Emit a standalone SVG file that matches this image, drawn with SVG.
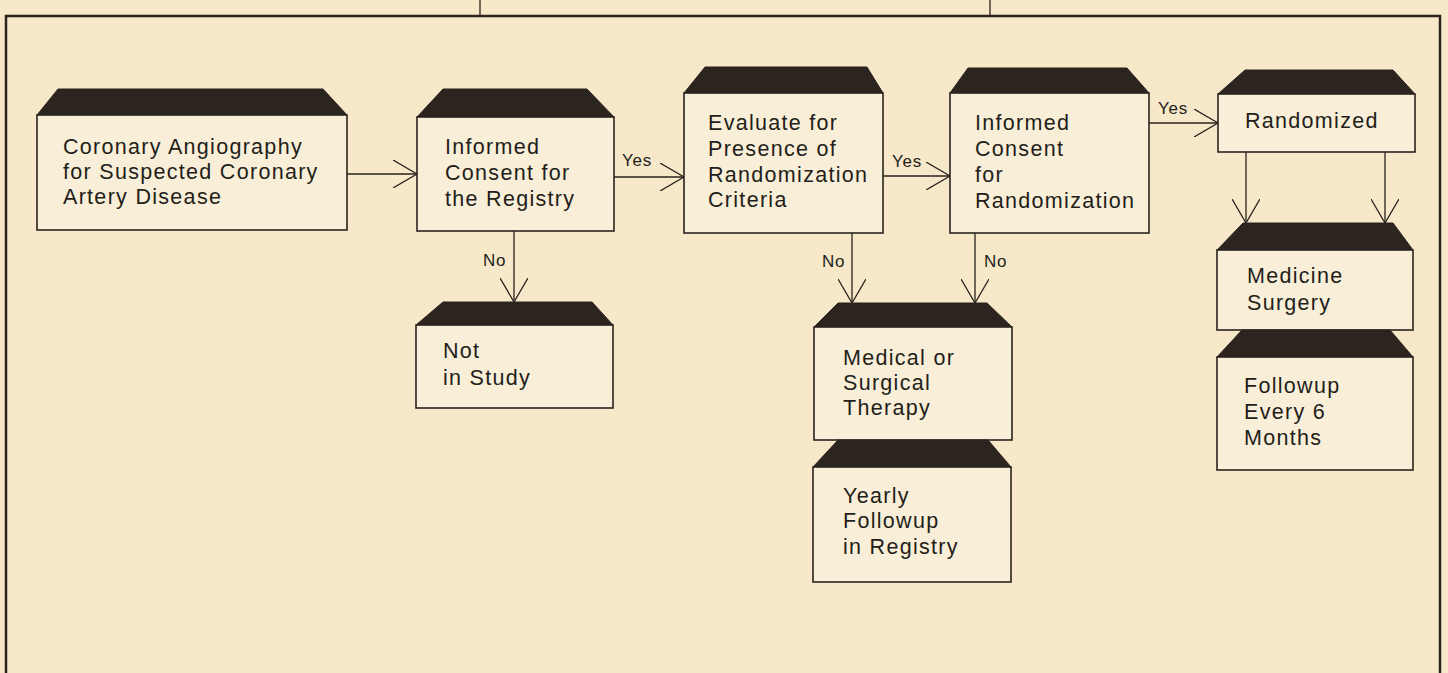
<svg xmlns="http://www.w3.org/2000/svg" width="1448" height="673" viewBox="0 0 1448 673">
<style>
.bg{fill:#f7e8c9}
.box{fill:#f9eed7;stroke:#2a231e;stroke-width:1.6}
.cap{fill:#2b241f;stroke:#2b241f;stroke-width:1}
.t{font-family:"Liberation Sans",Arial,sans-serif;font-size:21.5px;letter-spacing:1.3px;fill:#231e1a}
.lbl{font-family:"Liberation Sans",Arial,sans-serif;font-size:17px;letter-spacing:0.8px;fill:#231e1a}
.c{stroke:#2a231e;stroke-width:1.3;fill:none}
.frame{stroke:#2a231e;stroke-width:2.5;fill:none}
</style>
<defs>
<marker id="v" viewBox="0 0 24 28" refX="24" refY="14" markerWidth="24" markerHeight="28" markerUnits="userSpaceOnUse" orient="auto">
<path d="M0,0 L24,14 L0,28" fill="none" stroke="#2a231e" stroke-width="1.3"/>
</marker>
</defs>
<rect class="bg" x="0" y="0" width="1448" height="673"/>
<g id="frame">
<path class="frame" d="M6,673 L6,16 L1440,16 L1440,673"/>
<line class="c" x1="480" y1="0" x2="480" y2="16"/>
<line class="c" x1="990" y1="0" x2="990" y2="16"/>
</g>
<g id="connectors">
<line class="c" x1="347" y1="174" x2="417" y2="174" marker-end="url(#v)"/>
<line class="c" x1="614" y1="177" x2="684" y2="177" marker-end="url(#v)"/>
<line class="c" x1="883" y1="176" x2="950" y2="176" marker-end="url(#v)"/>
<line class="c" x1="1149" y1="123" x2="1218" y2="123" marker-end="url(#v)"/>
<line class="c" x1="514" y1="231" x2="514" y2="302" marker-end="url(#v)"/>
<line class="c" x1="852" y1="233" x2="852" y2="303" marker-end="url(#v)"/>
<line class="c" x1="975" y1="233" x2="975" y2="303" marker-end="url(#v)"/>
<line class="c" x1="1246" y1="152" x2="1246" y2="223" marker-end="url(#v)"/>
<line class="c" x1="1385" y1="152" x2="1385" y2="223" marker-end="url(#v)"/>
<text class="lbl" x="622" y="166">Yes</text>
<text class="lbl" x="892" y="167">Yes</text>
<text class="lbl" x="1158" y="114">Yes</text>
<text class="lbl" x="483" y="266">No</text>
<text class="lbl" x="822" y="267">No</text>
<text class="lbl" x="984" y="267">No</text>
</g>
<g id="n1">
<polygon class="cap" points="37,115 58,89 323,89 347,115"/>
<rect class="box" x="37" y="115" width="310" height="115"/>
<text class="t" x="63" y="154">Coronary Angiography</text>
<text class="t" x="63" y="179">for Suspected Coronary</text>
<text class="t" x="63" y="204">Artery Disease</text>
</g>
<g id="n2">
<polygon class="cap" points="417,117 443,89 587,89 614,117"/>
<rect class="box" x="417" y="117" width="197" height="114"/>
<text class="t" x="445" y="154">Informed</text>
<text class="t" x="445" y="180">Consent for</text>
<text class="t" x="445" y="206">the Registry</text>
</g>
<g id="n3">
<polygon class="cap" points="684,93 705,67 867,67 883,93"/>
<rect class="box" x="684" y="93" width="199" height="140"/>
<text class="t" x="708" y="130">Evaluate for</text>
<text class="t" x="708" y="156">Presence of</text>
<text class="t" x="708" y="182">Randomization</text>
<text class="t" x="708" y="207">Criteria</text>
</g>
<g id="n4">
<polygon class="cap" points="950,93 968,68 1127,68 1149,93"/>
<rect class="box" x="950" y="93" width="199" height="140"/>
<text class="t" x="975" y="130">Informed</text>
<text class="t" x="975" y="156">Consent</text>
<text class="t" x="975" y="182">for</text>
<text class="t" x="975" y="208">Randomization</text>
</g>
<g id="n5">
<polygon class="cap" points="1218,94 1245,70 1393,70 1415,94"/>
<rect class="box" x="1218" y="94" width="197" height="58"/>
<text class="t" x="1245" y="128">Randomized</text>
</g>
<g id="n6">
<polygon class="cap" points="1217,250 1243,223 1393,223 1413,250"/>
<rect class="box" x="1217" y="250" width="196" height="80"/>
<text class="t" x="1247" y="283">Medicine</text>
<text class="t" x="1247" y="310">Surgery</text>
</g>
<g id="n7">
<polygon class="cap" points="1217,357 1242,330 1390,330 1413,357"/>
<rect class="box" x="1217" y="357" width="196" height="113"/>
<text class="t" x="1244" y="393">Followup</text>
<text class="t" x="1244" y="419">Every 6</text>
<text class="t" x="1244" y="445">Months</text>
</g>
<g id="n8">
<polygon class="cap" points="416,325 443,302 592,302 613,325"/>
<rect class="box" x="416" y="325" width="197" height="83"/>
<text class="t" x="443" y="358">Not</text>
<text class="t" x="443" y="385">in Study</text>
</g>
<g id="n9">
<polygon class="cap" points="814,327 838,303 987,303 1012,327"/>
<rect class="box" x="814" y="327" width="198" height="113"/>
<text class="t" x="843" y="365">Medical or</text>
<text class="t" x="843" y="390">Surgical</text>
<text class="t" x="843" y="415">Therapy</text>
</g>
<g id="n10">
<polygon class="cap" points="813,467 838,440 988,440 1011,467"/>
<rect class="box" x="813" y="467" width="198" height="115"/>
<text class="t" x="843" y="503">Yearly</text>
<text class="t" x="843" y="528">Followup</text>
<text class="t" x="843" y="554">in Registry</text>
</g>
</svg>
